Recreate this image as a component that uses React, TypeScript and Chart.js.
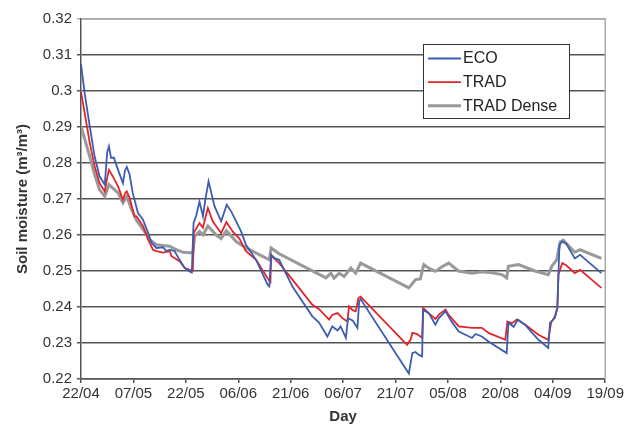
import React, { useEffect, useRef } from "react";
import { Chart, registerables } from "chart.js";

Chart.register(...registerables);

// X axis: day offset from 22/04 (0..150), ticks every 15 days
const xTickLabels = ["22/04", "07/05", "22/05", "06/06", "21/06", "06/07", "21/07", "05/08", "20/08", "04/09", "19/09"];

const ecoDays = [0, 1.05, 2.5, 3.9, 5.3, 6.8, 7.5, 8.0, 8.6, 9.4, 10.6, 12.0, 12.6, 13.1, 13.9, 14.8, 16.3, 17.7, 19.2, 20.2, 21.6, 23.5, 24.4, 25.4, 26.8, 28.2, 29.7, 31.1, 31.7, 32.2, 33.0, 33.9, 34.9, 35.6, 36.5, 38.2, 40.1, 41.7, 43.0, 44.4, 45.8, 47.2, 50.1, 53.4, 53.9, 54.4, 55.5, 56.7, 60.5, 66.2, 68.1, 70.5, 71.9, 73.4, 74.3, 75.8, 76.4, 77.8, 79.1, 79.6, 80.0, 93.8, 94.8, 95.7, 96.7, 97.6, 97.9, 99.5, 101.4, 102.4, 104.3, 106.0, 108.1, 111.9, 112.9, 114.7, 116.6, 121.8, 122.3, 123.8, 125.0, 127.1, 130.9, 133.7, 134.2, 135.6, 136.3, 136.9, 137.7, 138.9, 141.3, 142.8, 148.9];
const ecoValues = [0.3075, 0.2994, 0.2902, 0.2818, 0.2763, 0.274, 0.283, 0.2846, 0.2814, 0.2815, 0.2781, 0.2744, 0.278, 0.2789, 0.2768, 0.2717, 0.2661, 0.2643, 0.2606, 0.2578, 0.2564, 0.2566, 0.2555, 0.2559, 0.2555, 0.2531, 0.2508, 0.2499, 0.2496, 0.2633, 0.2655, 0.2693, 0.2652, 0.27, 0.2749, 0.268, 0.2638, 0.2684, 0.2665, 0.2638, 0.261, 0.2573, 0.2531, 0.2462, 0.2457, 0.2545, 0.2535, 0.2531, 0.2457, 0.2374, 0.2357, 0.2318, 0.2346, 0.2335, 0.2346, 0.2314, 0.2369, 0.2362, 0.2342, 0.2416, 0.2422, 0.2215, 0.2272, 0.2275, 0.2267, 0.2263, 0.2392, 0.2383, 0.2351, 0.2369, 0.2388, 0.236, 0.2332, 0.2314, 0.2325, 0.2318, 0.2304, 0.2272, 0.2356, 0.2345, 0.2365, 0.235, 0.2309, 0.2286, 0.2356, 0.237, 0.2397, 0.2573, 0.2582, 0.2575, 0.2535, 0.2545, 0.2494];

const tradDays = [0, 1.05, 2.5, 3.9, 5.3, 6.8, 7.6, 8.0, 9.1, 10.6, 12.0, 12.7, 13.1, 13.9, 15.3, 15.9, 17.8, 19.2, 20.6, 21.6, 23.5, 25.4, 25.9, 28.2, 29.7, 31.1, 32.0, 32.3, 33.9, 34.9, 36.3, 37.7, 39.1, 40.1, 41.6, 43.4, 45.3, 47.2, 50.1, 53.4, 54.2, 54.4, 56.7, 60.5, 66.2, 68.1, 71.0, 71.9, 73.4, 74.8, 76.2, 76.7, 77.6, 78.6, 79.4, 80.0, 93.3, 94.3, 94.8, 96.2, 97.6, 97.9, 99.5, 101.4, 102.4, 104.3, 105.2, 108.1, 111.9, 114.7, 116.6, 121.4, 122.0, 123.3, 124.7, 127.1, 130.9, 133.7, 134.5, 135.6, 136.3, 136.6, 137.7, 138.9, 141.3, 142.8, 148.9];
const tradValues = [0.2997, 0.2939, 0.2856, 0.2791, 0.2744, 0.2721, 0.2765, 0.2781, 0.2763, 0.2735, 0.2698, 0.2718, 0.2721, 0.2703, 0.2652, 0.2652, 0.2624, 0.2587, 0.2559, 0.2555, 0.2551, 0.2555, 0.2541, 0.2527, 0.2508, 0.2503, 0.2501, 0.2607, 0.2633, 0.262, 0.2675, 0.2638, 0.2619, 0.2605, 0.2636, 0.261, 0.259, 0.2555, 0.2531, 0.248, 0.247, 0.2543, 0.2522, 0.2476, 0.2406, 0.2394, 0.2365, 0.2378, 0.2383, 0.2369, 0.236, 0.2402, 0.2392, 0.2388, 0.2425, 0.2429, 0.2295, 0.2309, 0.2328, 0.2325, 0.2314, 0.2397, 0.2383, 0.2367, 0.2379, 0.2393, 0.2378, 0.2346, 0.2342, 0.2342, 0.2328, 0.2309, 0.236, 0.2355, 0.2365, 0.2351, 0.2323, 0.2309, 0.2356, 0.2374, 0.2397, 0.249, 0.2522, 0.2515, 0.2494, 0.2503, 0.2453];

const denseDays = [0, 1.05, 2.5, 3.9, 5.3, 6.8, 8.0, 9.1, 10.6, 12.0, 13.1, 14.3, 15.9, 17.8, 19.7, 21.6, 25.4, 27.3, 29.2, 32.0, 32.5, 33.9, 34.9, 36.3, 38.7, 40.1, 41.6, 44.4, 47.2, 53.9, 54.4, 56.7, 70.1, 71.5, 72.4, 73.9, 75.3, 77.2, 78.6, 80.0, 93.8, 94.8, 95.7, 97.1, 98.1, 99.5, 101.4, 103.3, 105.2, 108.0, 111.9, 114.7, 117.6, 120.4, 121.8, 122.3, 125.2, 129.9, 133.7, 134.7, 136.1, 137.1, 138.0, 141.3, 142.8, 148.9];
const denseValues = [0.2902, 0.2867, 0.2818, 0.2768, 0.2726, 0.2707, 0.274, 0.273, 0.2717, 0.2689, 0.2707, 0.2675, 0.264, 0.2615, 0.2587, 0.2573, 0.2569, 0.2559, 0.2552, 0.255, 0.2596, 0.261, 0.26, 0.2625, 0.26, 0.259, 0.2612, 0.2582, 0.2564, 0.2531, 0.2564, 0.2548, 0.2481, 0.2494, 0.248, 0.2494, 0.2485, 0.2508, 0.2494, 0.2522, 0.2453, 0.2465, 0.2476, 0.2478, 0.2518, 0.2508, 0.2499, 0.2512, 0.2522, 0.25, 0.2494, 0.2498, 0.2495, 0.249, 0.2481, 0.2513, 0.2518, 0.25, 0.249, 0.2513, 0.2531, 0.2581, 0.2586, 0.2552, 0.2559, 0.2535];

const seriesLabels = ["ECO", "TRAD", "TRAD Dense"];

const FONT = "'Liberation Sans', Arial, sans-serif";

const toPoints = (xs: number[], ys: number[]) => xs.map((x, i) => ({ x, y: ys[i] }));

const boxLegend = {
  id: "boxLegend",
  afterDraw(chart: any) {
    const ctx = chart.ctx;
    ctx.save();
    const bx = 423.5, by = 44.5, bw = 146, bh = 74;
    ctx.fillStyle = "#ffffff";
    ctx.fillRect(bx, by, bw, bh);
    ctx.strokeStyle = "#333333";
    ctx.lineWidth = 1;
    ctx.strokeRect(bx, by, bw, bh);
    ctx.font = `16px ${FONT}`;
    ctx.textBaseline = "middle";
    ctx.textAlign = "left";
    chart.data.datasets.forEach((ds: any, i: number) => {
      const y = 58.5 + i * 23.6;
      ctx.strokeStyle = ds.borderColor;
      ctx.lineWidth = ds.borderWidth;
      ctx.beginPath();
      ctx.moveTo(428, y);
      ctx.lineTo(461, y);
      ctx.stroke();
      ctx.fillStyle = "#222222";
      ctx.fillText(ds.label, 463, y + 0.5);
    });
    ctx.restore();
  },
};

const frame = {
  id: "frame",
  beforeDatasetsDraw(chart: any) {
    const { ctx, chartArea } = chart;
    ctx.save();
    ctx.strokeStyle = "#aaaaaa";
    ctx.lineWidth = 1.5;
    ctx.beginPath();
    ctx.moveTo(chartArea.left, chartArea.top);
    ctx.lineTo(chartArea.right, chartArea.top);
    ctx.lineTo(chartArea.right, chartArea.bottom);
    ctx.stroke();
    ctx.restore();
  },
};

export default function App() {
  const ref = useRef<HTMLCanvasElement | null>(null);
  useEffect(() => {
    if (!ref.current) return;
    const chart = new Chart(ref.current, {
      type: "line",
      data: {
        datasets: [
          { label: seriesLabels[0], data: toPoints(ecoDays, ecoValues), borderColor: "#3d5db3", borderWidth: 1.8, pointRadius: 0, tension: 0 },
          { label: seriesLabels[1], data: toPoints(tradDays, tradValues), borderColor: "#e3242b", borderWidth: 1.8, pointRadius: 0, tension: 0 },
          { label: seriesLabels[2], data: toPoints(denseDays, denseValues), borderColor: "#999999", borderWidth: 3, pointRadius: 0, tension: 0 },
        ],
      },
      options: {
        responsive: false,
        animation: false,
        devicePixelRatio: 1,
        layout: { padding: { left: 0, right: 19, top: 19, bottom: 0 } },
        plugins: { legend: { display: false }, tooltip: { enabled: false } },
        scales: {
          x: {
            type: "linear",
            min: 0,
            max: 150,
            afterFit: (s: any) => { s.height = 47; },
            ticks: {
              stepSize: 15,
              autoSkip: false,
              maxRotation: 0,
              padding: 2,
              color: "#333333",
              font: { family: FONT, size: 15 },
              callback: (v: any) => xTickLabels[Math.round(Number(v) / 15)] ?? "",
            },
            grid: { display: true, drawOnChartArea: false, drawTicks: true, tickLength: 4, color: "#555555", lineWidth: 1.5 },
            border: { display: true, color: "#555555", width: 1.5 },
            title: { display: true, text: "Day", color: "#333333", font: { family: FONT, size: 15, weight: "bold" }, padding: { top: 0, bottom: 0 } },
          },
          y: {
            min: 0.22,
            max: 0.32,
            afterFit: (s: any) => { s.width = 81; },
            ticks: {
              stepSize: 0.01,
              padding: 5,
              color: "#333333",
              font: { family: FONT, size: 15 },
              callback: (v: any) => String(Number(Number(v).toFixed(2))),
            },
            grid: {
              tickLength: 4,
              lineWidth: 1.5,
              color: (c: any) => (c.tick && Math.abs(c.tick.value - 0.32) < 1e-6 ? "#aaaaaa" : "#555555"),
            },
            border: { display: true, color: "#555555", width: 1.5 },
            title: { display: true, text: "Soil moisture (m³/m³)", color: "#333333", font: { family: FONT, size: 15, weight: "bold" }, padding: { top: 14, bottom: 0 } },
          },
        },
      },
      plugins: [frame, boxLegend],
    } as any);
    return () => chart.destroy();
  }, []);
  return (
    <div style={{ position: "absolute", left: 0, top: 0, width: 626, height: 426, background: "#fff" }}>
      <canvas ref={ref} width={626} height={426} />
    </div>
  );
}
